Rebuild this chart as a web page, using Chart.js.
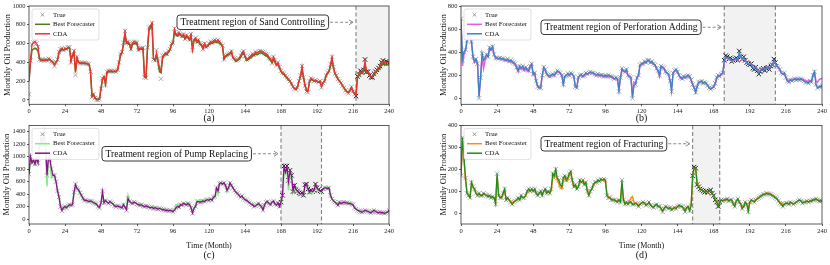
<!DOCTYPE html>
<html>
<head>
<meta charset="utf-8">
<script src="https://cdn.jsdelivr.net/npm/chart.js@4.4.1/dist/chart.umd.min.js"></script>
<style>
  html, body { margin: 0; padding: 0; background: #fff; width: 830px; height: 265px; overflow: hidden; }
  canvas { position: absolute; }
</style>
</head>
<body>
<canvas id="ca" width="415" height="124" style="left:0;top:0"></canvas>
<canvas id="cb" width="415" height="124" style="left:415px;top:0"></canvas>
<canvas id="cc" width="415" height="145" style="left:0;top:120px"></canvas>
<canvas id="cd" width="415" height="145" style="left:415px;top:120px"></canvas>
<script>
const months = Array.from({ length: 241 }, (_, i) => i);
const xTicks = [0, 24, 48, 72, 96, 120, 144, 168, 192, 216, 240];
const seriesNames = ["True", "Best Forecaster", "CDA"];

// (a) sand controlling
const yTicksA = [0, 200, 400, 600, 800, 1000];
const regionA = [218, 240];
const trueA = [
  60, 420, 590, 610, 620, 600, 565, 430, 420, 430, 420, 430, 420, 440, 430, 410, 400, 360, 400, 430, 510, 540, 550, 530,
  550, 540, 560, 560, 400, 480, 520, 265, 460, 400, 390, 395, 390, 395, 390, 385, 380, 300, 30, 60, 20, 0, 0, 10,
  120, 230, 250, 160, 300, 310, 305, 310, 300, 310, 300, 320, 400, 490, 510, 610, 735, 610, 620, 600, 540, 610, 620, 615,
  610, 530, 550, 550, 555, 240, 235, 560, 770, 780, 820, 430, 420, 530, 440, 350, 225, 470, 480, 500, 490, 520, 540, 600,
  610, 760, 700, 690, 720, 700, 680, 700, 650, 690, 670, 640, 700, 530, 640, 660, 620, 640, 600, 590, 540, 600, 560, 580,
  600, 620, 610, 630, 640, 620, 640, 620, 600, 580, 430, 470, 480, 490, 500, 520, 450, 440, 420, 430, 440, 470, 500, 520,
  470, 430, 440, 460, 470, 490, 480, 510, 500, 510, 520, 515, 510, 500, 490, 480, 450, 440, 390, 460, 420, 370, 400, 350,
  310, 290, 280, 260, 240, 220, 200, 170, 140, 120, 110, 130, 200, 260, 360, 240, 150, 90, 80, 200, 230, 220, 200, 210,
  200, 190, 200, 130, 180, 200, 260, 290, 310, 380, 460, 350, 280, 260, 220, 200, 180, 150, 130, 100, 80, 70, 100, 140,
  90, 60, 40, 250, 270, 310, 290, 320, 430, 300, 300, 260, 240, 240, 280, 300, 320, 340, 360, 400, 420, 390, 410, 400,
  395
];
const bestA = [
  200, 400, 530, 540, 550, 540, 520, 440, 420, 425, 420, 425, 420, 430, 425, 410, 400, 380, 400, 420, 500, 520, 540, 530,
  540, 540, 550, 550, 420, 470, 500, 300, 440, 400, 390, 390, 390, 390, 385, 385, 375, 310, 40, 60, 25, 5, 5, 15,
  120, 220, 240, 170, 290, 300, 300, 305, 300, 305, 300, 315, 390, 470, 500, 590, 700, 600, 600, 590, 540, 590, 600, 600,
  590, 530, 540, 540, 545, 250, 240, 540, 740, 770, 800, 440, 420, 480, 400, 300, 290, 440, 470, 490, 480, 510, 530, 590,
  600, 740, 690, 680, 700, 690, 670, 690, 650, 680, 660, 640, 680, 540, 630, 650, 610, 630, 590, 580, 550, 590, 560, 570,
  590, 600, 600, 610, 620, 610, 620, 600, 590, 570, 440, 460, 470, 480, 490, 500, 450, 430, 410, 420, 430, 450, 480, 500,
  460, 420, 430, 440, 450, 470, 470, 490, 480, 490, 500, 500, 490, 480, 470, 460, 440, 420, 400, 440, 400, 370, 380, 340,
  300, 280, 270, 250, 230, 210, 200, 170, 140, 120, 115, 140, 200, 250, 330, 240, 160, 100, 100, 190, 220, 210, 200, 200,
  195, 185, 190, 150, 180, 200, 250, 280, 300, 360, 430, 340, 280, 250, 220, 200, 180, 150, 130, 105, 90, 80, 100, 130,
  95, 70, 60, 240, 260, 290, 280, 300, 380, 300, 290, 260, 245, 245, 270, 290, 305, 320, 340, 370, 390, 370, 380, 375,
  370
];
const cdaA = [
  200, 420, 590, 610, 620, 600, 570, 430, 420, 430, 420, 430, 420, 440, 430, 410, 400, 370, 400, 430, 510, 540, 550, 530,
  550, 540, 560, 560, 410, 480, 520, 290, 450, 400, 390, 395, 390, 395, 390, 385, 380, 300, 35, 55, 20, 5, 5, 10,
  120, 230, 250, 170, 300, 310, 305, 310, 300, 310, 300, 320, 400, 490, 510, 610, 720, 610, 620, 600, 550, 610, 620, 615,
  610, 530, 550, 550, 555, 245, 240, 560, 770, 790, 820, 440, 420, 500, 420, 340, 300, 460, 480, 500, 490, 520, 540, 600,
  610, 750, 700, 690, 715, 700, 680, 700, 655, 690, 670, 640, 695, 540, 640, 660, 620, 640, 600, 590, 545, 600, 560, 580,
  600, 620, 610, 630, 640, 620, 640, 620, 600, 580, 435, 470, 480, 490, 500, 520, 450, 440, 420, 430, 440, 470, 500, 520,
  470, 430, 440, 460, 470, 490, 480, 510, 500, 510, 520, 515, 510, 500, 490, 480, 450, 440, 395, 455, 420, 370, 395, 350,
  310, 290, 280, 260, 240, 220, 200, 170, 140, 120, 110, 135, 200, 260, 355, 240, 150, 95, 90, 195, 230, 220, 200, 210,
  200, 190, 200, 140, 180, 200, 260, 290, 310, 380, 455, 350, 280, 260, 220, 200, 180, 150, 130, 100, 85, 75, 100, 135,
  90, 65, 45, 250, 270, 300, 290, 310, 410, 300, 300, 265, 245, 245, 280, 300, 320, 340, 360, 395, 415, 390, 405, 400,
  395
];

// (b) perforation adding
const yTicksB = [0, 200, 400, 600, 800];
const regionB = [175, 209];
const trueB = [
  690, 330, 400, 420, 500, 580, 550, 490, 360, 320, 340, 300, 0, 180, 390, 330, 350, 380, 360, 440, 420, 450, 380, 350,
  350, 345, 350, 340, 345, 335, 330, 340, 320, 330, 320, 310, 300, 270, 240, 280, 260, 280, 250, 270, 250, 240, 280, 300,
  210, 220, 150, 100, 90, 90, 200, 270, 250, 210, 200, 190, 200, 210, 200, 220, 240, 230, 220, 200, 120, 190, 200, 215,
  200, 220, 210, 190, 100, 90, 180, 200, 205, 190, 200, 220, 210, 220, 230, 220, 220, 210, 200, 210, 200, 200, 200, 190,
  200, 190, 200, 190, 190, 180, 170, 180, 170, 60, 180, 260, 240, 230, 250, 200, 190, 180, 0, 110, 120, 180, 200, 290,
  300, 300, 320, 310, 330, 330, 310, 320, 300, 290, 260, 240, 200, 280, 270, 260, 230, 220, 210, 150, 60, 220, 240, 250,
  230, 200, 180, 170, 190, 180, 190, 200, 190, 160, 120, 90, 50, 100, 140, 140, 150, 130, 140, 130, 110, 90, 80, 90,
  100, 130, 180, 200, 190, 210, 220, 330, 370, 360, 340, 350, 320, 330, 340, 350, 330, 410, 360, 340, 360, 330, 310, 300,
  290, 300, 260, 250, 270, 240, 210, 230, 250, 260, 240, 260, 270, 250, 280, 290, 340, 310, 280, 270, 250, 220, 210, 220,
  180, 150, 140, 160, 150, 160, 170, 160, 170, 160, 170, 160, 150, 140, 140, 130, 150, 140, 200, 230, 120, 90, 100, 100,
  110
];
const bestB = [
  650, 280, 380, 420, 490, 560, 540, 480, 350, 310, 330, 290, 20, 160, 370, 260, 330, 370, 360, 430, 420, 440, 380, 350,
  345, 340, 345, 335, 340, 330, 325, 330, 315, 320, 310, 300, 290, 260, 230, 270, 250, 270, 240, 260, 240, 230, 270, 290,
  200, 210, 140, 110, 100, 100, 190, 260, 240, 205, 195, 185, 195, 205, 195, 215, 230, 225, 215, 195, 130, 185, 195, 210,
  195, 215, 205, 185, 110, 100, 175, 195, 200, 185, 195, 215, 205, 215, 225, 215, 215, 205, 195, 205, 195, 195, 195, 185,
  195, 185, 195, 185, 185, 175, 165, 175, 165, 80, 170, 250, 235, 225, 245, 195, 185, 175, 20, 140, 130, 175, 195, 280,
  290, 295, 310, 305, 320, 320, 305, 310, 295, 285, 255, 235, 190, 270, 265, 255, 225, 215, 205, 160, 80, 210, 235, 245,
  225, 195, 175, 165, 185, 175, 185, 195, 185, 155, 120, 95, 60, 105, 135, 140, 145, 130, 135, 125, 110, 95, 85, 90,
  100, 125, 170, 195, 190, 205, 215, 310, 350, 350, 335, 340, 320, 325, 335, 340, 330, 380, 355, 335, 350, 325, 305, 300,
  295, 300, 270, 260, 275, 255, 230, 245, 260, 265, 255, 265, 275, 260, 280, 285, 320, 300, 275, 265, 245, 220, 210, 215,
  185, 160, 150, 165, 160, 165, 170, 165, 170, 165, 170, 165, 160, 150, 150, 145, 155, 150, 190, 220, 150, 140, 160, 170,
  170
];
const cdaB = [
  690, 340, 400, 420, 500, 575, 550, 490, 360, 320, 340, 300, 10, 180, 390, 330, 350, 380, 360, 440, 420, 450, 380, 350,
  350, 345, 350, 340, 345, 335, 330, 340, 320, 330, 320, 310, 300, 270, 240, 280, 260, 280, 250, 270, 250, 240, 280, 300,
  210, 220, 150, 100, 90, 90, 200, 270, 250, 210, 200, 190, 200, 210, 200, 220, 240, 230, 220, 200, 120, 190, 200, 215,
  200, 220, 210, 190, 100, 90, 180, 200, 205, 190, 200, 220, 210, 220, 230, 220, 220, 210, 200, 210, 200, 200, 200, 190,
  200, 190, 200, 190, 190, 180, 170, 180, 170, 65, 180, 255, 240, 230, 250, 200, 190, 180, 5, 110, 120, 180, 200, 290,
  300, 300, 320, 310, 330, 330, 310, 320, 300, 290, 260, 240, 200, 280, 270, 260, 230, 220, 210, 150, 60, 220, 240, 250,
  230, 200, 180, 170, 190, 180, 190, 200, 190, 160, 120, 90, 50, 100, 140, 140, 150, 130, 140, 130, 110, 90, 80, 90,
  100, 130, 180, 200, 190, 210, 220, 320, 360, 355, 340, 345, 325, 330, 340, 345, 330, 395, 360, 340, 355, 330, 310, 300,
  290, 300, 265, 255, 270, 245, 215, 235, 250, 260, 245, 260, 270, 255, 280, 290, 330, 310, 280, 270, 250, 220, 210, 220,
  180, 150, 140, 160, 150, 160, 170, 160, 170, 160, 170, 160, 150, 140, 140, 130, 150, 140, 200, 230, 120, 90, 100, 100,
  110
];

// (c) pump replacing
const yTicksC = [0, 200, 400, 600, 800, 1000, 1200, 1400];
const regionC = [168, 195];
const trueC = [
  720, 1000, 900, 950, 880, 980, 900, 1150, 1300, 1250, 1400, 1200, 700, 1000, 950, 800, 700, 700, 600, 450, 350, 200, 130, 180,
  200, 180, 210, 230, 220, 230, 430, 560, 490, 470, 420, 380, 330, 300, 300, 290, 280, 290, 280, 260, 250, 240, 200, 180,
  260, 450, 260, 300, 270, 250, 280, 260, 240, 210, 200, 210, 200, 190, 180, 230, 190, 140, 330, 280, 260, 250, 270, 260,
  240, 230, 220, 230, 210, 200, 210, 200, 190, 180, 190, 170, 180, 170, 160, 170, 160, 150, 150, 140, 140, 130, 140, 130,
  115, 140, 180, 200, 190, 230, 220, 250, 240, 230, 250, 230, 180, 90, 170, 200, 280, 280, 270, 280, 290, 280, 300, 310,
  300, 320, 300, 350, 360, 500, 450, 570, 580, 560, 580, 540, 460, 500, 580, 540, 500, 460, 430, 410, 380, 350, 370, 330,
  310, 300, 280, 260, 240, 230, 200, 210, 230, 250, 220, 200, 140, 220, 270, 280, 250, 230, 270, 290, 240, 220, 260, 200,
  270, 380, 850, 750, 850, 620, 780, 700, 440, 540, 470, 450, 420, 400, 420, 380, 550, 560, 480, 430, 460, 440, 460, 560,
  500, 470, 450, 440, 480, 500, 500, 490, 500, 380, 320, 290, 270, 250, 220, 270, 250, 260, 270, 260, 260, 250, 250, 240,
  230, 180, 160, 140, 130, 120, 110, 120, 140, 130, 120, 110, 100, 120, 140, 120, 110, 100, 110, 100, 100, 90, 100, 110,
  140
];
const bestC = [
  720, 980, 900, 940, 880, 960, 900, 1120, 1250, 1220, 1350, 1150, 520, 950, 930, 660, 680, 690, 600, 470, 370, 230, 160, 190,
  210, 190, 215, 230, 225, 230, 400, 520, 470, 450, 400, 360, 310, 290, 285, 280, 270, 280, 270, 255, 245, 235, 205, 190,
  250, 400, 260, 290, 265, 250, 275, 255, 235, 210, 200, 205, 200, 190, 185, 240, 200, 170, 380, 290, 265, 255, 265, 255,
  240, 230, 225, 230, 215, 205, 210, 200, 195, 185, 190, 175, 180, 175, 165, 170, 160, 155, 150, 145, 145, 140, 145, 140,
  130, 150, 220, 240, 220, 240, 230, 250, 245, 240, 255, 240, 200, 120, 180, 210, 290, 295, 290, 300, 310, 300, 320, 330,
  320, 330, 310, 350, 360, 480, 400, 550, 570, 550, 570, 530, 430, 480, 560, 530, 490, 450, 420, 400, 375, 345, 360, 330,
  310, 300, 280, 265, 245, 235, 210, 215, 230, 245, 225, 205, 160, 215, 265, 275, 250, 235, 265, 285, 245, 225, 255, 210,
  260, 360, 780, 720, 800, 460, 700, 650, 420, 500, 450, 430, 400, 390, 400, 370, 500, 520, 450, 410, 430, 420, 430, 500,
  470, 450, 430, 430, 480, 510, 510, 500, 510, 400, 330, 300, 280, 260, 240, 280, 260, 270, 275, 265, 265, 255, 255, 245,
  235, 190, 170, 150, 140, 130, 120, 125, 140, 135, 125, 115, 105, 120, 140, 125, 115, 105, 110, 105, 105, 95, 100, 110,
  135
];
const cdaC = [
  720, 1000, 900, 950, 880, 980, 900, 1150, 1300, 1250, 1400, 1200, 700, 1000, 950, 800, 700, 700, 600, 450, 350, 200, 140, 180,
  200, 180, 210, 230, 220, 230, 430, 550, 490, 470, 420, 380, 330, 300, 300, 290, 280, 290, 280, 260, 250, 240, 200, 185,
  260, 440, 260, 300, 270, 250, 280, 260, 240, 210, 200, 210, 200, 190, 180, 230, 190, 150, 330, 280, 260, 250, 270, 260,
  240, 230, 220, 230, 210, 200, 210, 200, 190, 180, 190, 170, 180, 170, 160, 170, 160, 150, 150, 140, 140, 130, 140, 130,
  120, 140, 180, 200, 190, 230, 220, 250, 240, 230, 250, 230, 180, 95, 170, 200, 280, 280, 270, 280, 290, 280, 300, 310,
  300, 320, 300, 350, 360, 500, 450, 570, 580, 560, 580, 540, 460, 500, 580, 540, 500, 460, 430, 410, 380, 350, 370, 330,
  310, 300, 280, 260, 240, 230, 200, 210, 230, 250, 220, 200, 145, 220, 270, 280, 250, 230, 270, 290, 240, 220, 260, 200,
  270, 380, 840, 750, 840, 600, 770, 700, 450, 540, 470, 450, 420, 400, 420, 385, 545, 555, 480, 430, 460, 440, 460, 550,
  500, 470, 450, 440, 480, 500, 500, 490, 500, 380, 320, 290, 270, 250, 220, 270, 250, 260, 270, 260, 260, 250, 250, 240,
  230, 180, 160, 140, 130, 120, 110, 120, 140, 130, 120, 110, 100, 120, 140, 120, 110, 100, 110, 100, 100, 90, 100, 110,
  140
];

// (d) fracturing
const yTicksD = [0, 100, 200, 300, 400];
const regionD = [154, 172];
const trueD = [
  170, 345, 250, 160, 90, 80, 70, 140, 120, 110, 90, 80, 90, 80, 80, 90, 85, 80, 75, 80, 70, 75, 70, 40,
  180, 80, 70, 70, 90, 110, 60, 70, 60, 50, 40, 50, 55, 60, 70, 60, 80, 70, 70, 80, 100, 110, 100, 110,
  100, 110, 90, 80, 90, 100, 80, 100, 110, 90, 100, 90, 110, 180, 170, 200, 160, 150, 130, 120, 160, 170, 150, 160,
  180, 190, 150, 120, 130, 110, 120, 150, 140, 150, 130, 140, 100, 80, 100, 110, 130, 140, 140, 150, 145, 155, 150, 155,
  150, 80, 70, 70, 60, 60, 60, 55, 50, 60, 50, 150, 60, 40, 50, 40, 50, 50, 40, 40, 45, 40, 30, 40,
  45, 50, 45, 35, 40, 50, 35, 30, 25, 35, 40, 30, 30, 20, 5, 20, 30, 25, 20, 25, 15, 20, 25, 20,
  30, 35, 30, 30, 20, 5, 25, 30, 10, 35, 170, 210, 205, 130, 120, 110, 105, 100, 95, 100, 95, 100, 105, 90,
  80, 60, 50, 30, 50, 60, 55, 60, 60, 65, 55, 60, 60, 40, 30, 55, 65, 50, 40, 20, 30, 50, 40, 5,
  50, 60, 55, 50, 60, 65, 70, 75, 80, 85, 85, 90, 88, 87, 85, 80, 75, 70, 65, 55, 45, 40, 30, 40,
  45, 45, 40, 50, 45, 40, 45, 50, 55, 60, 55, 45, 50, 50, 55, 50, 55, 55, 60, 60, 65, 60, 55, 55,
  55
];
const bestD = [
  170, 330, 240, 150, 95, 85, 75, 130, 115, 105, 90, 85, 90, 80, 80, 85, 85, 80, 78, 78, 72, 72, 68, 50,
  165, 85, 75, 70, 85, 100, 65, 65, 60, 52, 45, 50, 55, 58, 65, 62, 75, 72, 72, 78, 95, 100, 98, 105,
  98, 105, 92, 85, 88, 95, 85, 98, 105, 92, 98, 92, 105, 165, 160, 185, 150, 135, 115, 110, 145, 160, 145, 150,
  170, 180, 145, 120, 125, 115, 120, 140, 140, 145, 135, 135, 105, 90, 100, 110, 125, 135, 140, 145, 145, 150, 150, 150,
  145, 90, 75, 70, 65, 60, 60, 58, 55, 60, 55, 130, 65, 45, 50, 45, 55, 70, 75, 50, 45, 42, 35, 40,
  45, 48, 45, 38, 40, 48, 38, 32, 28, 35, 38, 32, 30, 22, 12, 22, 28, 25, 22, 25, 18, 22, 25, 22,
  30, 33, 30, 30, 22, 12, 25, 28, 15, 35, 160, 205, 200, 140, 125, 115, 105, 100, 98, 100, 95, 98, 100, 90,
  80, 65, 55, 38, 52, 58, 58, 60, 60, 62, 58, 60, 58, 45, 38, 55, 62, 52, 42, 28, 35, 48, 42, 15,
  48, 58, 55, 52, 60, 65, 72, 78, 82, 88, 88, 92, 90, 88, 85, 82, 78, 72, 65, 58, 50, 45, 38, 42,
  45, 45, 42, 48, 45, 42, 45, 50, 55, 58, 55, 48, 50, 50, 55, 52, 55, 55, 58, 60, 62, 60, 58, 58,
  58
];
const cdaD = [
  170, 345, 250, 160, 90, 80, 70, 140, 120, 110, 90, 80, 90, 80, 80, 90, 85, 80, 75, 80, 70, 75, 70, 42,
  180, 80, 70, 70, 90, 110, 60, 70, 60, 50, 40, 50, 55, 60, 70, 60, 80, 70, 70, 80, 100, 110, 100, 110,
  100, 110, 90, 80, 90, 100, 80, 100, 110, 90, 100, 90, 110, 180, 170, 200, 160, 150, 130, 120, 160, 170, 150, 160,
  180, 190, 150, 120, 130, 110, 120, 150, 140, 150, 130, 140, 100, 80, 100, 110, 130, 140, 140, 150, 145, 155, 150, 155,
  150, 80, 70, 70, 60, 60, 60, 55, 50, 60, 50, 150, 60, 40, 50, 40, 50, 50, 40, 40, 45, 40, 30, 40,
  45, 50, 45, 35, 40, 50, 35, 30, 25, 35, 40, 30, 30, 20, 8, 20, 30, 25, 20, 25, 15, 20, 25, 20,
  30, 35, 30, 30, 20, 8, 25, 30, 10, 35, 170, 210, 205, 130, 120, 110, 105, 100, 95, 100, 95, 100, 105, 90,
  80, 60, 50, 30, 50, 60, 55, 60, 60, 65, 55, 60, 60, 40, 30, 55, 65, 50, 40, 20, 30, 50, 40, 8,
  50, 60, 55, 50, 60, 65, 70, 75, 80, 85, 85, 90, 88, 87, 85, 80, 75, 70, 65, 55, 45, 40, 30, 40,
  45, 45, 40, 50, 45, 40, 45, 50, 55, 60, 55, 45, 50, 50, 55, 50, 55, 55, 60, 60, 65, 60, 55, 55,
  55
];

const serif = "'Liberation Serif', 'DejaVu Serif', serif";

const panels = [
  {
    canvas: "ca", tag: "(a)", treatment: "Sand Controlling",
    truth: trueA, best: bestA, cda: cdaA, yTicks: yTicksA, region: regionA,
    yMin: -47, yMax: 1000, bestColor: "#4c7a18", cdaColor: "#ee3131",
    pad: { left: 0, top: 6, right: 26, bottom: 0 }, yWidth: 29, xHeight: 19.7,
    titleX: 8, tagY: 118, xTitleY: null, box: { x: 177, y: 15 }
  },
  {
    canvas: "cb", tag: "(b)", treatment: "Perforation Adding",
    truth: trueB, best: bestB, cda: cdaB, yTicks: yTicksB, region: regionB,
    yMin: -52, yMax: 800, bestColor: "#e85ce0", cdaColor: "#3685c6",
    pad: { left: 0, top: 6, right: 8, bottom: 0 }, yWidth: 46, xHeight: 19.7,
    titleX: 28.5, tagY: 118, xTitleY: null, box: { x: 126, y: 20 }
  },
  {
    canvas: "cc", tag: "(c)", treatment: "Pump Replacing",
    truth: trueC, best: bestC, cda: cdaC, yTicks: yTicksC, region: regionC,
    yMin: -80, yMax: 1500, bestColor: "#86ec86", cdaColor: "#8a108e",
    pad: { left: 0, top: 4, right: 26, bottom: 0 }, yWidth: 29, xHeight: 41,
    titleX: 7, tagY: 135.7, xTitleY: 125.7, box: { x: 102, y: 26.5 }
  },
  {
    canvas: "cd", tag: "(d)", treatment: "Fracturing",
    truth: trueD, best: bestD, cda: cdaD, yTicks: yTicksD, region: regionD,
    yMin: -50, yMax: 400, bestColor: "#ff8c1a", cdaColor: "#1f8c1f",
    pad: { left: 0, top: 4, right: 8, bottom: 0 }, yWidth: 46, xHeight: 41,
    titleX: 28.5, tagY: 135.7, xTitleY: 125.7, box: { x: 126, y: 16.5 }
  }
];

function drawCross(ctx, x, y, r, color) {
  ctx.strokeStyle = color;
  ctx.lineWidth = 0.8;
  ctx.beginPath();
  ctx.moveTo(x - r, y - r); ctx.lineTo(x + r, y + r);
  ctx.moveTo(x - r, y + r); ctx.lineTo(x + r, y - r);
  ctx.stroke();
}

const decor = {
  id: "decor",
  beforeDatasetsDraw(chart, args, o) {
    const { ctx, chartArea: a } = chart;
    const x = chart.scales.x;
    const x0 = x.getPixelForValue(o.region[0]);
    const x1 = x.getPixelForValue(o.region[1]);
    ctx.save();
    ctx.fillStyle = "#f2f2f2";
    ctx.fillRect(x0, a.top, x1 - x0, a.bottom - a.top);
    ctx.strokeStyle = "#808080";
    ctx.lineWidth = 1.1;
    ctx.setLineDash([4, 2.5]);
    [x0, x1].forEach((px) => {
      if (px > a.right - 1) return;
      ctx.beginPath();
      ctx.moveTo(px, a.top);
      ctx.lineTo(px, a.bottom);
      ctx.stroke();
    });
    ctx.restore();
  },
  afterDatasetsDraw(chart, args, o) {
    const { ctx, chartArea: a } = chart;
    const x = chart.scales.x;
    ctx.save();

    // frame
    ctx.strokeStyle = "#333";
    ctx.lineWidth = 0.8;
    ctx.strokeRect(a.left, a.top, a.right - a.left, a.bottom - a.top);

    // legend
    const lx = a.left + 3, ly = a.top + 3;
    ctx.fillStyle = "rgba(255,255,255,0.93)";
    ctx.strokeStyle = "#d2d2d2";
    ctx.lineWidth = 0.7;
    ctx.beginPath();
    ctx.roundRect(lx, ly, 67, 31, 2);
    ctx.fill();
    ctx.stroke();
    const rows = [ly + 5.8, ly + 15.3, ly + 24.8];
    drawCross(ctx, lx + 10.5, rows[0], 1.8, "#808080");
    [o.bestColor, o.cdaColor].forEach((c, i) => {
      ctx.strokeStyle = c;
      ctx.lineWidth = 1.5;
      ctx.beginPath();
      ctx.moveTo(lx + 3, rows[i + 1]);
      ctx.lineTo(lx + 18, rows[i + 1]);
      ctx.stroke();
    });
    ctx.fillStyle = "#111";
    ctx.font = "6.8px " + serif;
    ctx.textBaseline = "middle";
    ctx.textAlign = "left";
    seriesNames.forEach((n, i) => ctx.fillText(n, lx + 21, rows[i]));

    // annotation box and arrow
    const text = "Treatment region of " + o.treatment;
    ctx.font = "9.6px " + serif;
    const bw = ctx.measureText(text).width + 7;
    const bh = 14.5;
    const bx = o.box.x, by = o.box.y;
    ctx.fillStyle = "#fff";
    ctx.strokeStyle = "#222";
    ctx.lineWidth = 0.9;
    ctx.beginPath();
    ctx.roundRect(bx, by, bw, bh, 3);
    ctx.fill();
    ctx.stroke();
    ctx.fillStyle = "#111";
    ctx.textAlign = "center";
    ctx.fillText(text, bx + bw / 2, by + bh / 2 + 0.5);

    const ay = by + bh / 2;
    const tip = x.getPixelForValue(o.region[0]) - 3;
    ctx.strokeStyle = "#8a8a8a";
    ctx.lineWidth = 1;
    ctx.setLineDash([3, 2]);
    ctx.beginPath();
    ctx.moveTo(bx + bw + 1.5, ay);
    ctx.lineTo(tip, ay);
    ctx.stroke();
    ctx.setLineDash([]);
    ctx.beginPath();
    ctx.moveTo(tip - 4, ay - 2.5);
    ctx.lineTo(tip, ay);
    ctx.lineTo(tip - 4, ay + 2.5);
    ctx.stroke();

    // axis titles and tag
    ctx.fillStyle = "#111";
    ctx.font = "8.5px " + serif;
    ctx.save();
    ctx.translate(o.titleX, (a.top + a.bottom) / 2);
    ctx.rotate(-Math.PI / 2);
    ctx.fillText("Monthly Oil Production", 0, 0);
    ctx.restore();
    const cx = (a.left + a.right) / 2;
    if (o.xTitleY) {
      ctx.font = "8px " + serif;
      ctx.fillText("Time (Month)", cx, o.xTitleY);
    }
    ctx.font = "10px " + serif;
    ctx.fillText(o.tag, cx, o.tagY);
    ctx.restore();
  }
};

function makeChart(p) {
  const inRegion = (c) => c.raw && c.raw.x >= p.region[0] && c.raw.x <= p.region[1];
  const pts = (arr) => arr.map((v, i) => ({ x: months[i], y: v }));
  const tickFont = { family: serif, size: 6.5 };
  return new Chart(document.getElementById(p.canvas), {
    type: "line",
    data: {
      datasets: [
        {
          label: "CDA", data: pts(p.cda), order: 0,
          borderColor: p.cdaColor, borderWidth: 1.3, pointRadius: 0, tension: 0
        },
        {
          label: "Best Forecaster", data: pts(p.best), order: 1,
          borderColor: p.bestColor, borderWidth: 1.5, pointRadius: 0, tension: 0
        },
        {
          label: "True", data: pts(p.truth), order: 2, showLine: false,
          pointStyle: "crossRot", pointRadius: 3.1,
          pointBorderWidth: (c) => (inRegion(c) ? 0.95 : 0.75),
          pointBorderColor: (c) => (inRegion(c) ? "#111" : "#8f8f8f"),
          pointBackgroundColor: "transparent"
        }
      ]
    },
    options: {
      responsive: false,
      animation: false,
      devicePixelRatio: 1,
      layout: { padding: p.pad },
      plugins: {
        legend: { display: false },
        tooltip: { enabled: false },
        decor: p
      },
      scales: {
        x: {
          type: "linear", min: 0, max: 240,
          afterBuildTicks: (s) => { s.ticks = xTicks.map((v) => ({ value: v })); },
          afterFit: (s) => { s.height = p.xHeight; },
          grid: { display: true, drawOnChartArea: false, tickLength: 2, color: "#333", lineWidth: 0.8 },
          border: { display: false },
          ticks: { font: tickFont, color: "#222", padding: 1, maxRotation: 0, callback: (v) => String(v) }
        },
        y: {
          min: p.yMin, max: p.yMax,
          afterBuildTicks: (s) => { s.ticks = p.yTicks.map((v) => ({ value: v })); },
          afterFit: (s) => { s.width = p.yWidth; },
          grid: { display: true, drawOnChartArea: false, tickLength: 2, color: "#333", lineWidth: 0.8 },
          border: { display: false },
          ticks: { font: tickFont, color: "#222", padding: 1.5, callback: (v) => String(v) }
        }
      }
    },
    plugins: [decor]
  });
}

panels.forEach(makeChart);
</script>
</body>
</html>
